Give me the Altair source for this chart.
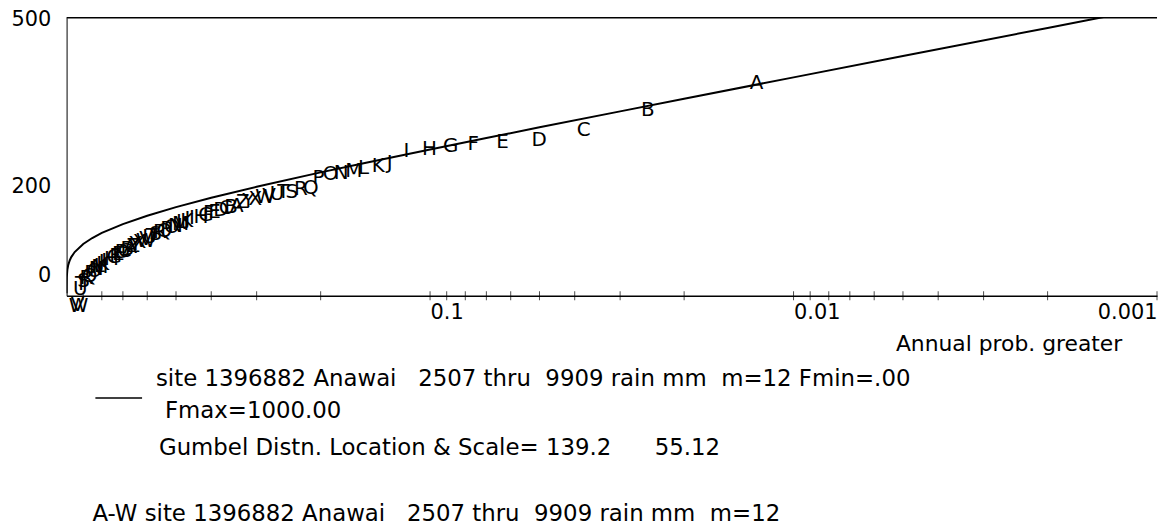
import altair as alt
import pandas as pd

NB = "\u00a0"
FONT = "DejaVu Sans"

# Fitted Gumbel line (Location 139.2, Scale 55.12): annual prob. greater -> rain mm
curve_p = [0.99999, 0.9999, 0.999, 0.995, 0.99, 0.98, 0.97, 0.95, 0.9, 0.85, 0.8,
           0.7, 0.6, 0.5, 0.4, 0.3, 0.2, 0.15, 0.1, 0.07, 0.05, 0.03, 0.02, 0.01,
           0.005, 0.002, 0.001]
curve_mm = [4.5, 16.8, 32.7, 47.3, 55.0, 64.0, 70.0, 78.7, 93.2, 103.9, 113.0,
            129.0, 144.0, 159.4, 176.2, 196.0, 221.9, 239.4, 263.2, 283.8, 302.9,
            331.6, 354.3, 392.8, 431.1, 481.7, 519.9]

# Ranked annual maxima, labelled A-Z, A-Z, A-W
point_labels = list("ABCDEFGHIJKLMNOPQRSTUVWXYZ" "ABCDEFGHIJKLMNOPQRSTUVWXYZ" "ABCDEFGHIJKLMNOPQRSTUVW")
point_p = [0.0132, 0.0263, 0.0395, 0.0526, 0.0658, 0.0789, 0.0921, 0.1053, 0.1184, 0.1316,
           0.1447, 0.1579, 0.1711, 0.1842, 0.1974, 0.2105, 0.2237, 0.2368, 0.2500, 0.2632,
           0.2763, 0.2895, 0.3026, 0.3158, 0.3289, 0.3421, 0.3553, 0.3684, 0.3816, 0.3947,
           0.4079, 0.4211, 0.4342, 0.4474, 0.4605, 0.4737, 0.4868, 0.5000, 0.5132, 0.5263,
           0.5395, 0.5526, 0.5658, 0.5789, 0.5921, 0.6053, 0.6184, 0.6316, 0.6447, 0.6579,
           0.6711, 0.6842, 0.6974, 0.7105, 0.7237, 0.7368, 0.7500, 0.7632, 0.7763, 0.7895,
           0.8026, 0.8158, 0.8289, 0.8421, 0.8553, 0.8684, 0.8816, 0.8947, 0.9079, 0.9211,
           0.9342, 0.9474, 0.9605, 0.9737, 0.9868]
point_mm = [400, 352, 316, 298, 295, 291, 287, 282, 279, 257, 252, 248, 243, 239, 236, 229,
            212, 209, 205, 204, 200, 198, 195, 191, 189, 186,
            180, 178, 175, 172, 169, 166, 163, 160, 158, 155, 152, 150, 147, 144, 141, 138,
            135, 132, 129, 126, 123, 120, 117, 114, 111, 108,
            105, 102, 99, 96, 93, 90, 87, 84, 81, 78, 75, 72, 69, 66, 62, 58, 54, 50,
            45, 39, 30, 1, 0]

tick_p = [0.9, 0.8, 0.7, 0.6, 0.5, 0.4, 0.3, 0.2, 0.1, 0.09, 0.08, 0.07, 0.06, 0.05,
          0.04, 0.03, 0.02, 0.01, 0.009, 0.008, 0.007, 0.006, 0.005, 0.004, 0.003,
          0.002, 0.001]
x_label_values = [0.1, 0.01, 0.001]
y_label_values = [0, 200, 500]

W, H = 1098, 280

curve_df = pd.DataFrame({"p": curve_p, "mm": curve_mm})
pts_df = pd.DataFrame({"p": point_p, "mm": point_mm, "lab": point_labels})
ticks_df = pd.DataFrame({"p": tick_p})

xscale = alt.Scale(type="log", domain=[0.001, 1], reverse=True, nice=False)
yscale = alt.Scale(domain=[0, 500], nice=False, zero=False)

x_axis = alt.Axis(
    values=x_label_values, format="~g", ticks=False, grid=False,
    domainColor="black", domainWidth=1.6,
    labelFont=FONT, labelFontSize=21, labelColor="black",
    labelAlign={"condition": {"test": "datum.value < 0.005", "value": "right"}, "value": "left"},
    labelBaseline="top", labelPadding=6, labelFlush=False, labelOverlap=False, title=None,
)
y_axis = alt.Axis(
    values=y_label_values, ticks=False, grid=False,
    domainColor="black", domainWidth=1,
    labelFont=FONT, labelFontSize=21, labelColor="black", labelPadding=16,
    labelOffset={"condition": {"test": "datum.value == 0", "value": -20}, "value": 2},
    labelOverlap=False, title=None,
)

X = alt.X("p:Q", scale=xscale, axis=x_axis)
Y = alt.Y("mm:Q", scale=yscale, axis=y_axis)

curve = alt.Chart(curve_df).mark_line(color="black", strokeWidth=2, clip=True).encode(x=X, y=Y)

points = alt.Chart(pts_df).mark_text(
    align="left", baseline="top", font=FONT, fontSize=20, color="black"
).encode(x=X, y=Y, text="lab:N")

ticks = alt.Chart(ticks_df).mark_tick(color="black", size=9, thickness=1).encode(
    x=X, y=alt.value(H),
)

one = alt.Data(values=[{}])
top_rule = alt.Chart(one).mark_rule(color="black", strokeWidth=1.5).encode(
    x=alt.value(0), x2=alt.value(W), y=alt.value(0)
)
legend_rule = alt.Chart(one).mark_rule(color="black", strokeWidth=1.5).encode(
    x=alt.value(29), x2=alt.value(76), y=alt.value(383)
)


def ann(text, x, y, align="left", size=23):
    return alt.Chart(one).mark_text(
        align=align, baseline="middle", font=FONT, fontSize=size, color="black"
    ).encode(x=alt.value(x), y=alt.value(y), text=alt.value(text))


t_axis = ann("Annual prob. greater", 1063, 329, align="right", size=22)
t_site = ann("site 1396882 Anawai " + NB * 2 + "2507 thru " + NB + "9909 rain mm " + NB + "m=12 Fmin=.00", 90, 364)
t_fmax = ann("Fmax=1000.00", 99, 396)
t_gum = ann("Gumbel Distn. Location & Scale= 139.2 " + NB * 5 + "55.12", 93, 433)
t_aw = ann("A-W site 1396882 Anawai " + NB * 2 + "2507 thru " + NB + "9909 rain mm " + NB + "m=12", 26, 500)

chart = alt.layer(
    curve, points, ticks, top_rule, legend_rule, t_axis, t_site, t_fmax, t_gum, t_aw
).properties(
    width=W, height=H,
    autosize=alt.AutoSizeParams(type="none"),
    padding={"left": 59, "top": 8, "right": 2, "bottom": 230},
    background="white",
).configure_view(stroke=None)

chart.save("out.html", embed_options={"renderer": "svg", "actions": False})
